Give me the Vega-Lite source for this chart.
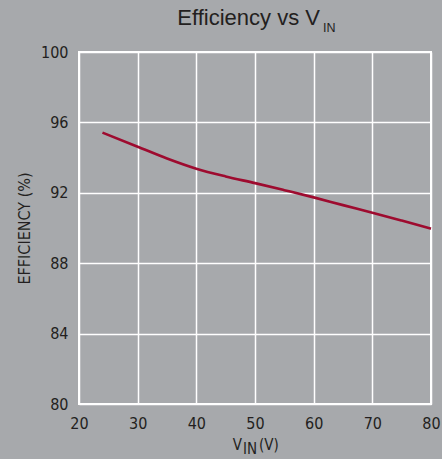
{
  "$schema": "https://vega.github.io/schema/vega-lite/v6.json",
  "autosize": "none",
  "width": 352,
  "height": 352,
  "padding": {"left": 79, "top": 52, "right": 11, "bottom": 55},
  "background": "#a7a9ac",
  "config": {
    "view": {"stroke": "#ffffff", "strokeWidth": 2, "fill": "#a7a9ac"},
    "font": "DejaVu Sans Condensed",
    "axis": {"gridColor": "#ffffff", "gridWidth": 1.5, "gridOpacity": 1, "domain": false, "ticks": false, "labelFlush": false, "labelColor": "#231f20", "labelFont": "DejaVu Sans Condensed", "labelFontSize": 16, "titleColor": "#231f20", "titleFont": "DejaVu Sans Condensed", "titleFontWeight": "normal"}
  },
  "layer": [
    {
      "data": {"values": [
        {"vin": 24, "eff": 95.42},
        {"vin": 30, "eff": 94.62},
        {"vin": 35, "eff": 93.95},
        {"vin": 40, "eff": 93.37},
        {"vin": 45, "eff": 92.93},
        {"vin": 50, "eff": 92.55},
        {"vin": 55, "eff": 92.15},
        {"vin": 60, "eff": 91.74},
        {"vin": 65, "eff": 91.3},
        {"vin": 70, "eff": 90.87},
        {"vin": 75, "eff": 90.42},
        {"vin": 80, "eff": 89.96}
      ]},
      "mark": {"type": "line", "color": "#9e0b2f", "strokeWidth": 2.6, "interpolate": "monotone"},
      "encoding": {
        "x": {"field": "vin", "type": "quantitative", "scale": {"domain": [20, 80], "nice": false, "zero": false},
          "axis": {"values": [20, 30, 40, 50, 60, 70, 80], "labelPadding": 11, "title": null}},
        "y": {"field": "eff", "type": "quantitative", "scale": {"domain": [80, 100], "nice": false, "zero": false},
          "axis": {"values": [80, 84, 88, 92, 96, 100], "labelPadding": 11, "title": "EFFICIENCY (%)", "titleFontSize": 16, "titlePadding": 8}}
      }
    },
    {
      "data": {"values": [{"t": "Efficiency vs V"}]},
      "mark": {"type": "text", "align": "left", "baseline": "alphabetic", "font": "Liberation Sans", "fontSize": 22, "color": "#231f20"},
      "encoding": {"x": {"datum": 36.76}, "y": {"datum": 101.534}, "text": {"field": "t"}}
    },
    {
      "data": {"values": [{"t": "IN"}]},
      "mark": {"type": "text", "align": "left", "baseline": "alphabetic", "font": "Liberation Sans", "fontSize": 12.5, "color": "#231f20"},
      "encoding": {"x": {"datum": 61.59}, "y": {"datum": 101.136}, "text": {"field": "t"}}
    },
    {
      "data": {"values": [{"t": "V"}]},
      "mark": {"type": "text", "align": "left", "baseline": "alphabetic", "fontSize": 15, "color": "#231f20"},
      "encoding": {"x": {"datum": 46.2}, "y": {"datum": 77.386}, "text": {"field": "t"}}
    },
    {
      "data": {"values": [{"t": "IN"}]},
      "mark": {"type": "text", "align": "left", "baseline": "alphabetic", "fontSize": 15, "color": "#231f20"},
      "encoding": {"x": {"datum": 47.95}, "y": {"datum": 77.16}, "text": {"field": "t"}}
    },
    {
      "data": {"values": [{"t": "(V)"}]},
      "mark": {"type": "text", "align": "left", "baseline": "alphabetic", "fontSize": 15, "color": "#231f20"},
      "encoding": {"x": {"datum": 50.68}, "y": {"datum": 77.386}, "text": {"field": "t"}}
    }
  ]
}
